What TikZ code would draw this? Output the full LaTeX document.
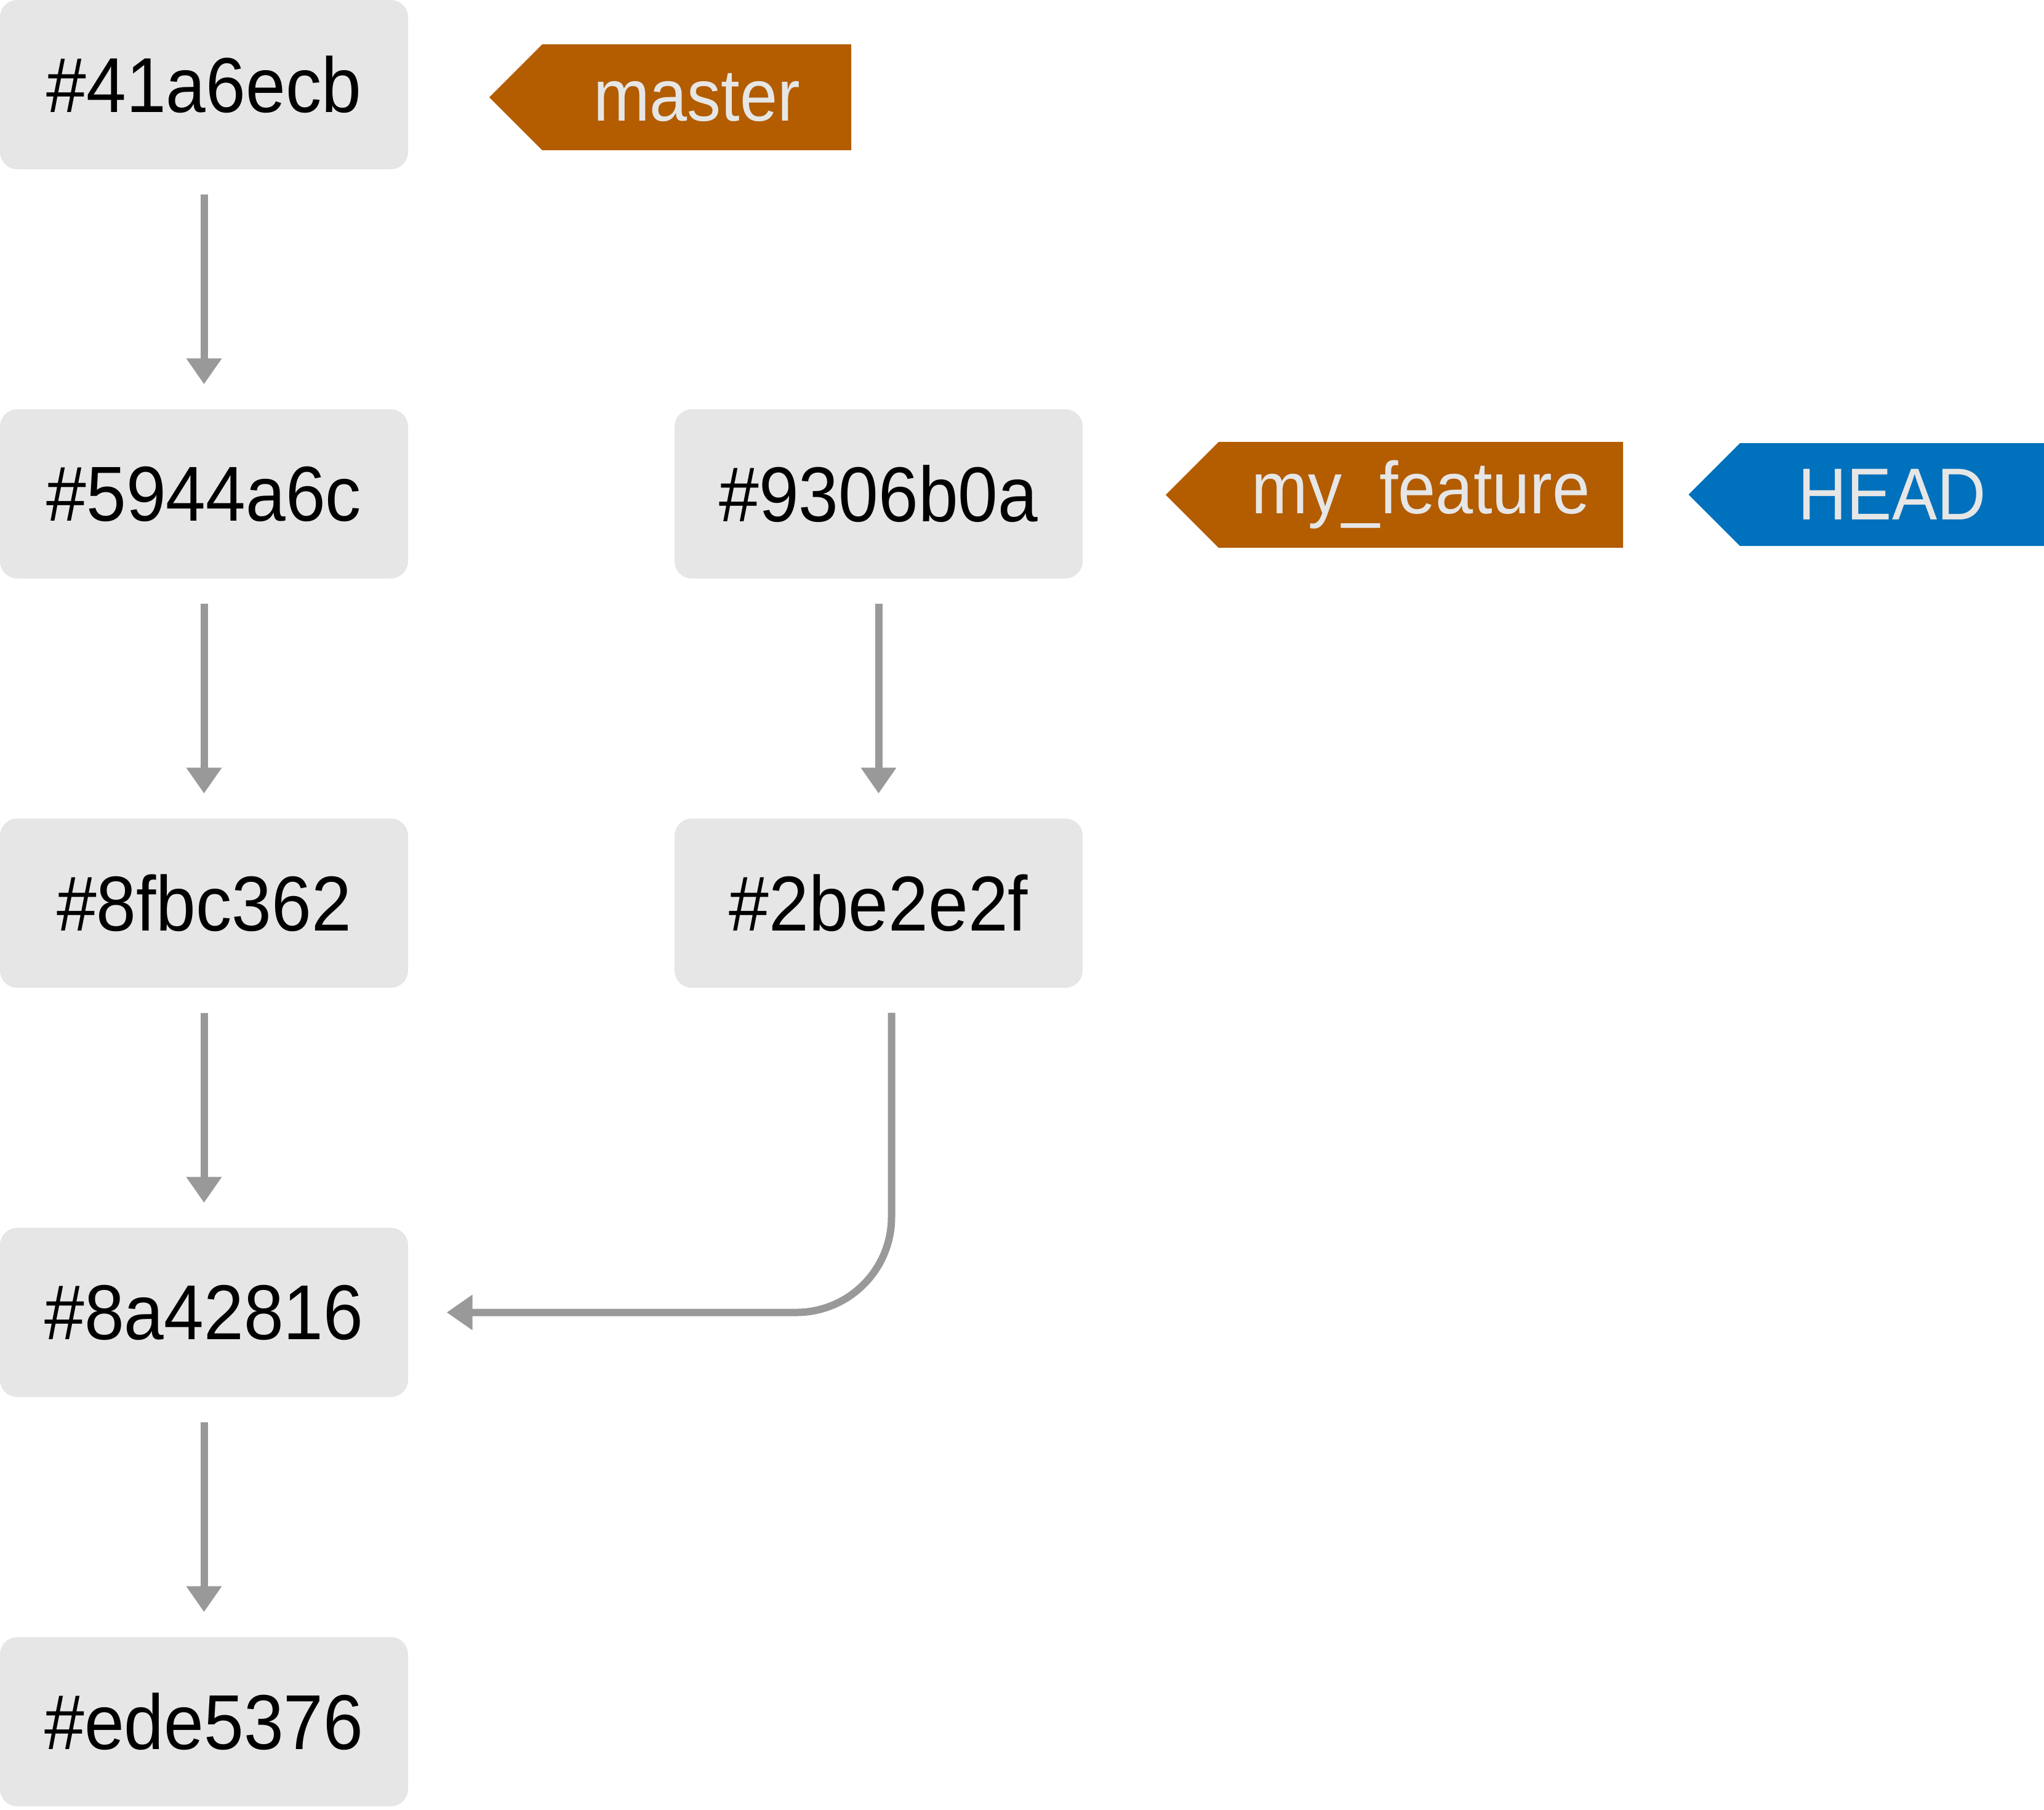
\documentclass[tikz,border=0pt]{standalone}
\usepackage{fontspec}
\setmainfont{Liberation Sans}[FakeStretch=0.92]
\usetikzlibrary{shapes,arrows.meta,positioning}
\definecolor{boxgray}{HTML}{E6E6E6}
\definecolor{arrgray}{HTML}{999999}
\definecolor{branch}{HTML}{B35C00}
\definecolor{headblue}{HTML}{0071BC}

\begin{document}
\begin{tikzpicture}[
  commit/.style={rectangle, fill=boxgray, minimum width=6.63cm, minimum height=2.75cm, rounded corners=0.28cm, inner sep=0pt, font=\fontsize{36pt}{40pt}\selectfont},
  tag/.style={signal, signal to=west, signal pointer angle=90, fill=#1, text=boxgray, minimum height=1.72cm, inner sep=0pt, align=center, font=\fontsize{34pt}{38pt}\selectfont},
  arr/.style={-{Triangle[length=0.42cm, width=0.55cm]}, arrgray, line width=0.12cm, shorten <=0.4cm, shorten >=0.4cm}
]
  \useasboundingbox (0,0) rectangle (33.21,-29.40);
  % commits
  \node[commit] (c41a) at (3.315,-1.375) {\#41a6ecb};
  \node[commit] (c594) at (3.315,-8.025) {\#5944a6c};
  \node[commit] (c8fb) at (3.315,-14.675) {\#8fbc362};
  \node[commit] (c8a4) at (3.315,-21.325) {\#8a42816};
  \node[commit] (cede) at (3.315,-27.975) {\#ede5376};
  \node[commit] (c930) at (14.275,-8.025) {\#9306b0a};
  \node[commit] (c2be) at (14.275,-14.675) {\#2be2e2f};
  % branch labels
  \node[tag=branch, text width=5.02cm] (master) at (11.32,-1.58) {master};
  \node[tag=branch, text width=6.57cm] (feature) at (23.085,-8.04) {my\_feature};
  \node[tag=headblue, text width=4.94cm, minimum height=1.67cm] (head) at (30.74,-8.035) {HEAD};
  % parents
  \draw[arr] (c41a) -- (c594);
  \draw[arr] (c594) -- (c8fb);
  \draw[arr] (c8fb) -- (c8a4);
  \draw[arr] (c8a4) -- (cede);
  \draw[arr] (c930) -- (c2be);
  \draw[arr, shorten >=0.62cm, rounded corners=1.55cm] ([xshift=0.21cm]c2be.south) |- (c8a4.east);
\end{tikzpicture}
\end{document}
